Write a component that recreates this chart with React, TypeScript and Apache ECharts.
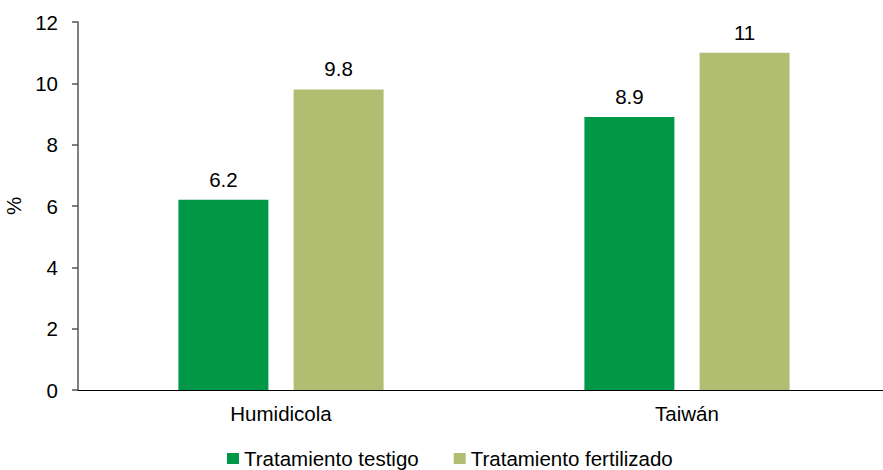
import React, { useEffect, useRef } from "react";
import * as echarts from "echarts";

const categories = ["Humidicola", "Taiwán"];
const testigo = [6.2, 8.9];
const fertilizado = [9.8, 11];
const seriesNames = ["Tratamiento testigo", "Tratamiento fertilizado"];

export default function App() {
  const ref = useRef<HTMLDivElement>(null);
  useEffect(() => {
    const chart = echarts.init(ref.current!, null, { renderer: "svg" });
    const font = "Liberation Sans, Arial, sans-serif";
    const fs = 20.5;
    const label = { show: true, position: "top", distance: 10, color: "#000", fontSize: fs, fontFamily: font };
    chart.setOption({
      animation: false,
      textStyle: { fontFamily: font },
      grid: { left: 78, width: 812, top: 22, bottom: 80, outerBoundsMode: "none" },
      legend: {
        top: 448,
        left: 227,
        padding: 0,
        itemWidth: 12,
        itemHeight: 11,
        itemGap: 35,
        icon: "rect",
        textStyle: { fontSize: fs, color: "#000", fontFamily: font },
        data: seriesNames,
      },
      xAxis: {
        type: "category",
        data: categories,
        axisLine: { lineStyle: { color: "#000", width: 1 } },
        axisTick: { show: false },
        axisLabel: { fontSize: fs, color: "#000", margin: 13, fontFamily: font },
      },
      yAxis: {
        type: "value",
        min: 0,
        max: 12,
        interval: 2,
        name: "%",
        nameLocation: "middle",
        nameGap: 51,
        nameTextStyle: { fontSize: fs, color: "#000", fontFamily: font },
        axisLine: { show: true, lineStyle: { color: "#555", width: 1.5 } },
        axisTick: { show: true, length: 6, lineStyle: { color: "#555", width: 1.5 } },
        axisLabel: { fontSize: fs, color: "#000", margin: 20, fontFamily: font },
        splitLine: { show: false },
      },
      series: [
        {
          name: seriesNames[0],
          type: "bar",
          data: testigo,
          barWidth: 90,
          barGap: "28%",
          itemStyle: { color: "#009846" },
          label,
        },
        {
          name: seriesNames[1],
          type: "bar",
          data: fertilizado,
          barWidth: 90,
          itemStyle: { color: "#b1be71" },
          label,
        },
      ],
    });
    return () => chart.dispose();
  }, []);
  return (
    <div
      ref={ref}
      style={{ position: "absolute", left: 0, top: 0, width: 883, height: 470 }}
    />
  );
}
